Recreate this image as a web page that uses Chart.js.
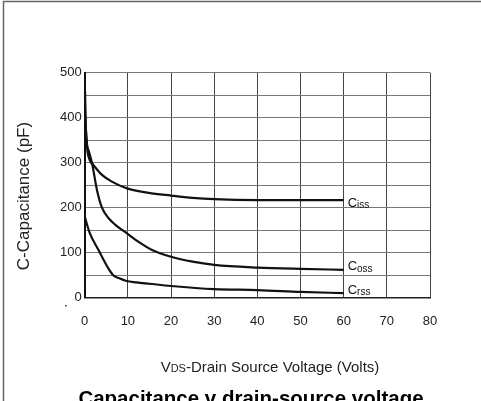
<!DOCTYPE html>
<html>
<head>
<meta charset="utf-8">
<script src="https://cdn.jsdelivr.net/npm/chart.js@4"></script>
<style>
html,body{margin:0;padding:0;background:#fff;}
#wrap{width:481px;height:401px;position:relative;overflow:hidden;}
</style>
</head>
<body>
<div id="wrap"><canvas id="c" width="481" height="401"></canvas></div>
<script>
// ---- data ----
const xTickValues = [0, 10, 20, 30, 40, 50, 60, 70, 80];
const yTickValues = [0, 100, 200, 300, 400, 500];

const cissV = [0, 0.12, 0.5, 1.2, 2.0, 4.0, 6.3, 9.8, 14.8, 20, 25, 30, 40, 50, 60];
const cissC = [500, 420, 340, 305, 295, 273, 258, 243, 233, 227, 222, 219, 217, 217, 217];

const cossV = [0, 0.12, 0.5, 0.95, 1.7, 2.85, 4.0, 5.6, 7.1, 9.8, 12.5, 15.6, 20, 25, 30, 40, 50, 60];
const cossC = [500, 420, 345, 326, 299, 239, 200, 176, 162, 143, 124, 106, 91, 80, 73, 67, 64, 62];

const crssV = [0, 1.2, 3.2, 5.5, 6.6, 8, 9.7, 12, 15, 20, 30, 40, 50, 60];
const crssC = [180, 143, 106, 65, 50, 43, 37, 34, 31, 26, 19, 17, 13, 10];

const seriesNames = [["C", "iss"], ["C", "oss"], ["C", "rss"]];

function pts(xs, ys) { return xs.map((x, i) => ({x: x, y: ys[i]})); }

const FONT = "'Liberation Sans', Arial, sans-serif";
const labelOffsets = [3, -3, -3];

const decor = {
  id: 'decor',
  afterDraw(chart) {
    const ctx = chart.ctx;
    const xs = chart.scales.x, ys = chart.scales.y;
    ctx.save();
    // outer frame (top + left)
    ctx.strokeStyle = '#666';
    ctx.lineWidth = 1.5;
    ctx.beginPath();
    ctx.moveTo(3.5, 401); ctx.lineTo(3.5, 1.5); ctx.lineTo(481, 1.5);
    ctx.stroke();

    // series labels
    ctx.fillStyle = '#111';
    ctx.textBaseline = 'middle';
    chart.data.datasets.forEach((ds, i) => {
      const last = ds.data[ds.data.length - 1];
      const px = xs.getPixelForValue(last.x) + 4;
      const py = ys.getPixelForValue(last.y) + labelOffsets[i];
      ctx.font = '13px ' + FONT;
      ctx.textAlign = 'left';
      ctx.fillText(seriesNames[i][0], px, py);
      const w = ctx.measureText(seriesNames[i][0]).width;
      ctx.font = '10px ' + FONT;
      ctx.fillText(seriesNames[i][1], px + w, py + 2);
    });

    // y axis title
    ctx.save();
    ctx.translate(24, 196);
    ctx.rotate(-Math.PI / 2);
    ctx.font = '17px ' + FONT;
    ctx.textAlign = 'center';
    ctx.textBaseline = 'middle';
    ctx.fillStyle = '#222';
    ctx.fillText('C-Capacitance (pF)', 0, 0);
    ctx.restore();

    // x axis title with small "DS"
    const parts = [['V', 15], ['DS', 11], ['-Drain Source Voltage (Volts)', 15]];
    let total = 0;
    parts.forEach(p => { ctx.font = p[1] + 'px ' + FONT; total += ctx.measureText(p[0]).width; });
    let x = 270 - total / 2;
    ctx.textAlign = 'left';
    ctx.textBaseline = 'alphabetic';
    ctx.fillStyle = '#222';
    parts.forEach(p => {
      ctx.font = p[1] + 'px ' + FONT;
      ctx.fillText(p[0], x, 372);
      x += ctx.measureText(p[0]).width;
    });

    // main title (cut off at bottom)
    ctx.font = 'bold 20.5px ' + FONT;
    ctx.textAlign = 'center';
    ctx.fillStyle = '#000';
    ctx.fillText('Capacitance v drain-source voltage', 251, 405);

    // small dot below y=0 label
    ctx.fillStyle = '#333';
    ctx.fillRect(65, 305, 1.5, 1.5);
    ctx.restore();
  }
};

new Chart(document.getElementById('c'), {
  type: 'scatter',
  data: {
    datasets: [
      {data: pts(cissV, cissC)},
      {data: pts(cossV, cossC)},
      {data: pts(crssV, crssC)}
    ].map(d => Object.assign(d, {
      showLine: true, borderColor: '#111', borderWidth: 2.2, pointRadius: 0,
      cubicInterpolationMode: 'monotone', fill: false
    }))
  },
  options: {
    responsive: false,
    animation: false,
    devicePixelRatio: 1,
    layout: {padding: {top: 72.7, right: 51, left: 0, bottom: 0}},
    plugins: {legend: {display: false}, tooltip: {enabled: false}, title: {display: false}},
    scales: {
      x: {
        type: 'linear', min: 0, max: 80,
        afterBuildTicks: s => { s.ticks = xTickValues.map(v => ({value: v})); },
        afterFit: s => { s.height = 401 - 297.7; },
        grid: {color: '#444', lineWidth: 1, drawTicks: false},
        border: {color: '#222', width: 1.5},
        ticks: {padding: 16, color: '#222', font: {family: FONT, size: 13}}
      },
      y: {
        type: 'linear', min: 0, max: 500,
        afterBuildTicks: s => {
          const t = [];
          for (let v = 0; v <= 500; v += 50) t.push({value: v});
          s.ticks = t;
        },
        afterFit: s => { s.width = 84.7; },
        grid: {color: '#777', lineWidth: 1, drawTicks: false},
        border: {color: '#111', width: 2},
        ticks: {
          padding: 3, color: '#222', font: {family: FONT, size: 13},
          callback: v => yTickValues.includes(v) ? String(v) : ''
        }
      }
    }
  },
  plugins: [decor]
});
</script>
</body>
</html>
